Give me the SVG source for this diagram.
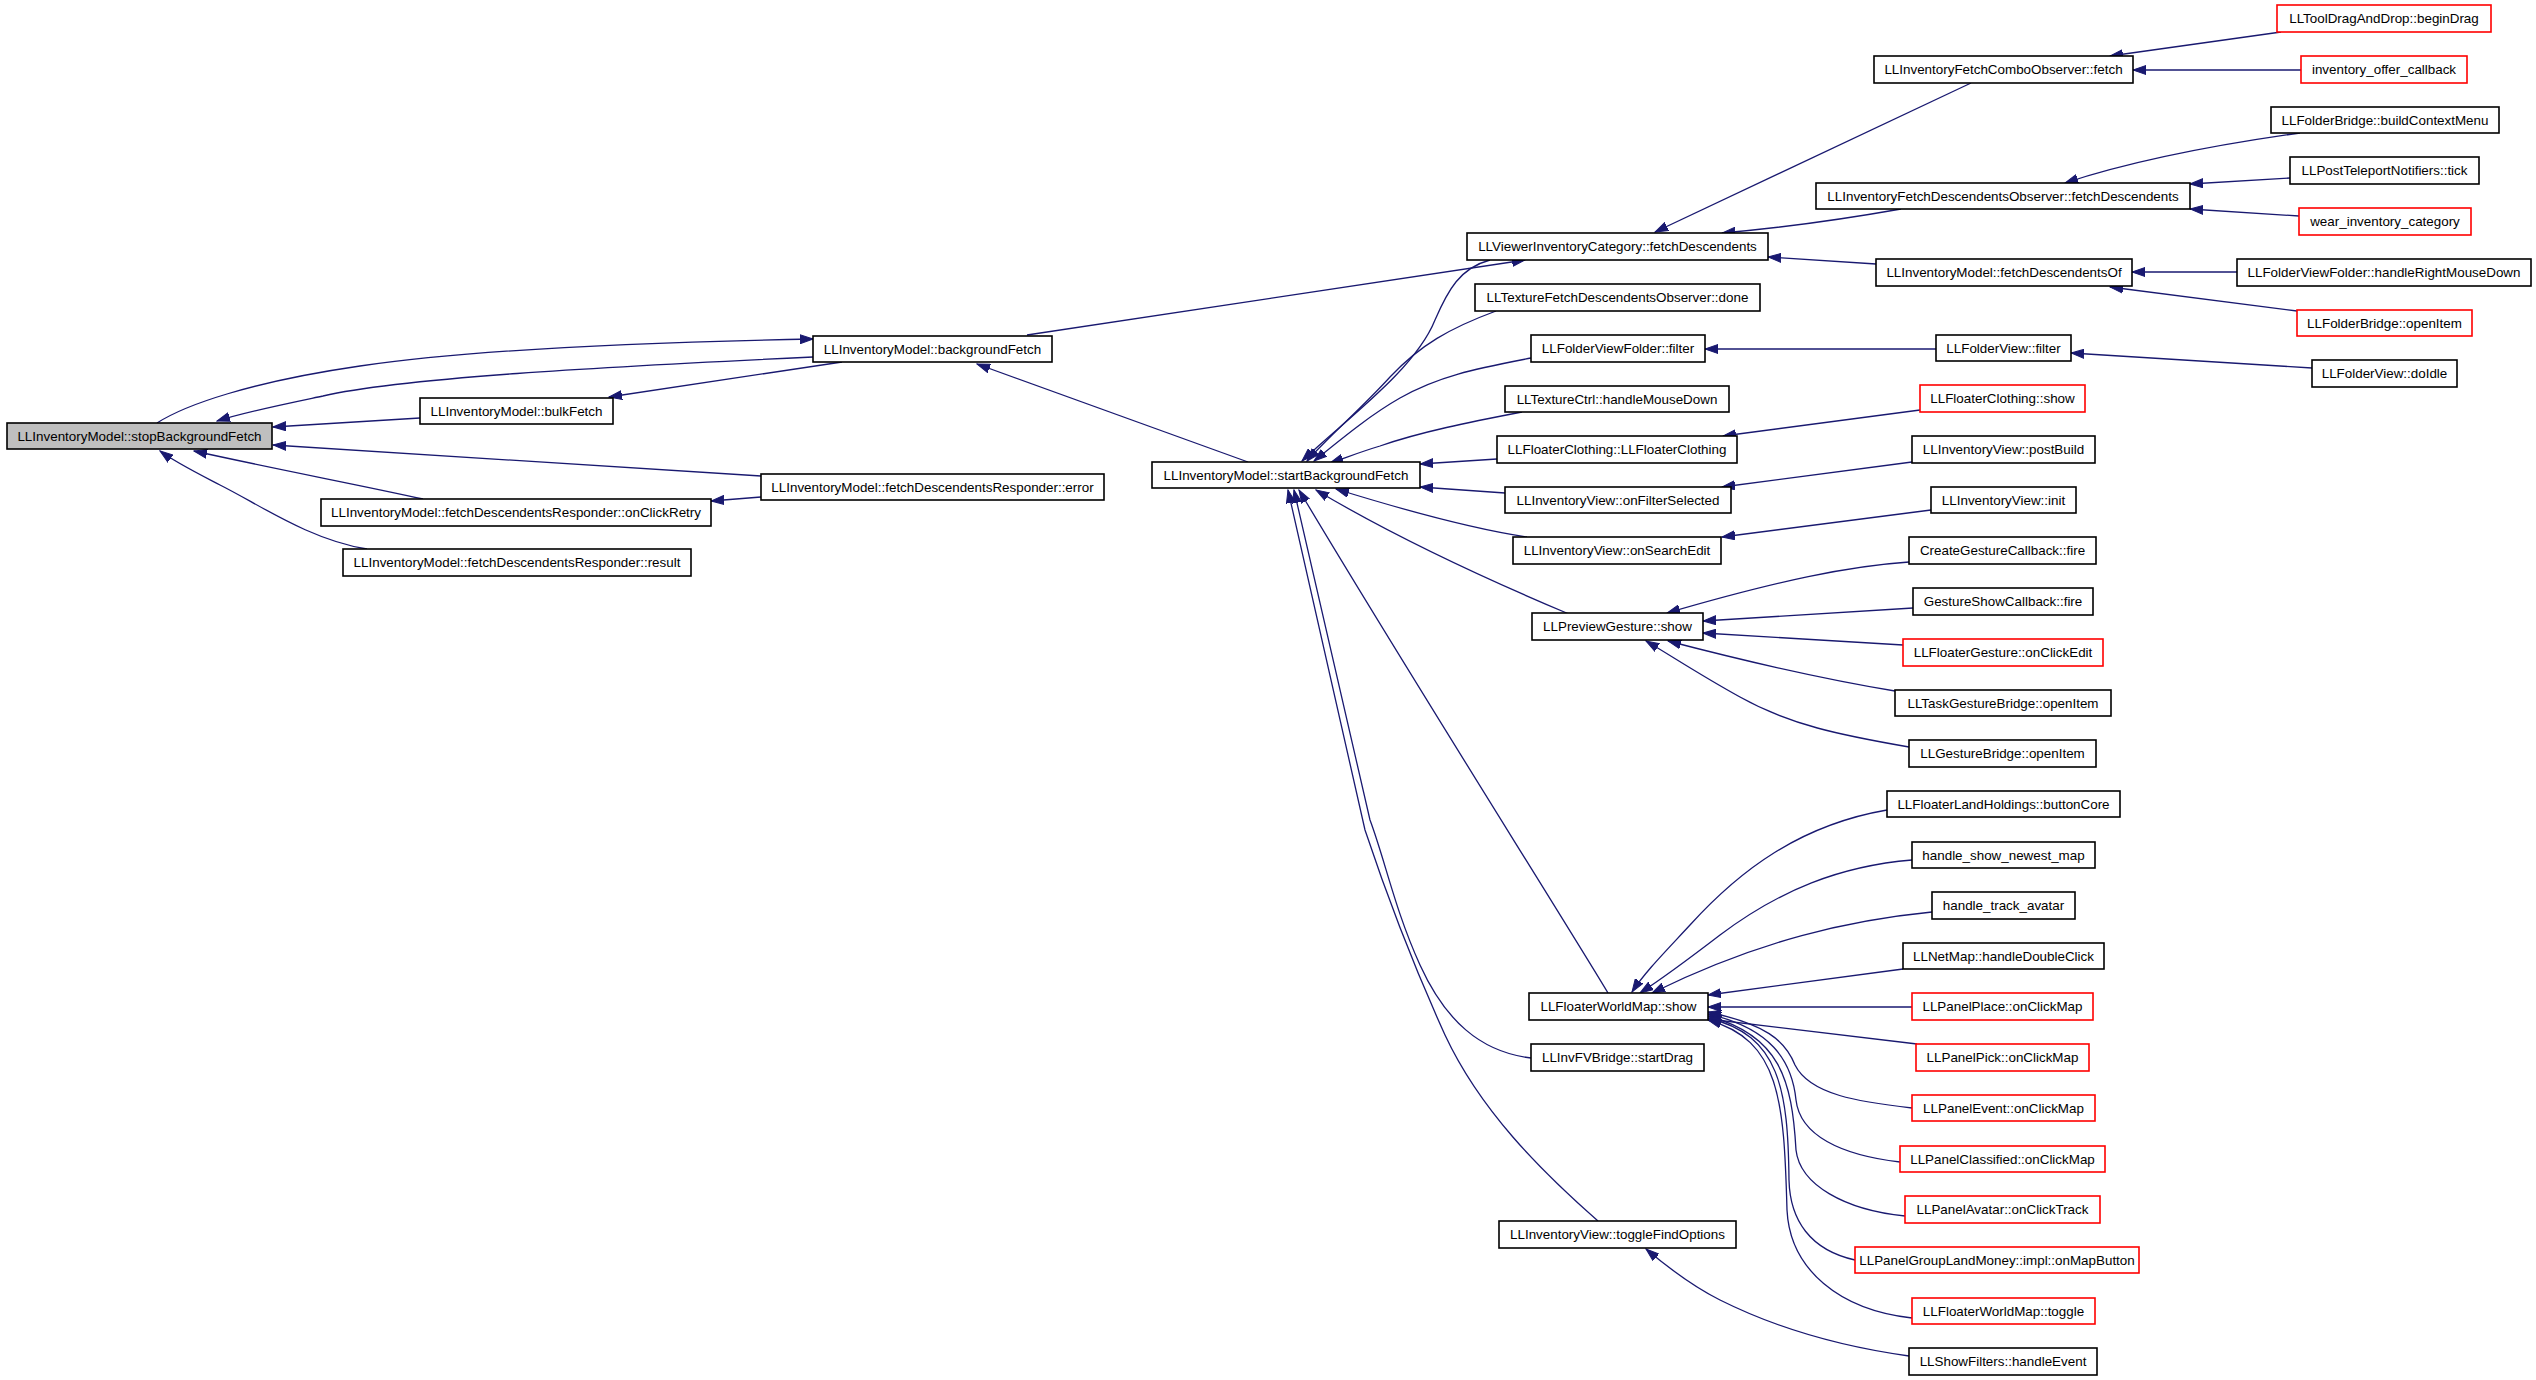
<svg xmlns="http://www.w3.org/2000/svg" width="2536" height="1380" viewBox="0 0 2536 1380">
<defs>
<style>
.n rect{fill:#ffffff;stroke:#000000;stroke-width:1.6}
.n.r rect{stroke:#ff0000}
.n.g rect{fill:#bfbfbf}
.n text{font-family:"Liberation Sans",Arial,sans-serif;font-size:13.4px;fill:#000000;text-anchor:middle}
#edges path{fill:none;stroke:#191970;stroke-width:1.3;marker-end:url(#ah)}
</style>
<marker id="ah" markerUnits="userSpaceOnUse" markerWidth="14" markerHeight="10" refX="13" refY="5" orient="auto" viewBox="0 0 14 10">
<path d="M0,0.5 L13,5 L0,9.5 z" fill="#191970" stroke="#191970" stroke-width="1"/>
</marker>
</defs>
<rect x="0" y="0" width="2536" height="1380" fill="#ffffff"/>
<g id="edges">
<path d="M157,423 C185,405 250,382 360,366 S650,342 813,339"/>
<path d="M813,357 C600,367 400,378 323,396 C280,405 245,412 217,421"/>
<path d="M420,418 L273,427"/>
<path d="M842,362 L609,397"/>
<path d="M761,476 L273,445"/>
<path d="M761,497 L711,501"/>
<path d="M423,499 C360,485 280,470 194,451"/>
<path d="M367,549 C310,540 260,505 220,485 C195,472 175,462 160,451"/>
<path d="M1248,462 L977,364"/>
<path d="M1027,335 L1525,260"/>
<path d="M1490,260 C1460,268 1448,290 1435,320 C1415,370 1345,420 1302,461"/>
<path d="M1496,311 C1450,328 1420,345 1390,377 C1360,410 1330,435 1307,461"/>
<path d="M1531,358 C1480,368 1440,375 1400,398 C1370,415 1340,440 1314,461"/>
<path d="M1522,412 C1470,422 1420,432 1380,446 C1360,452 1345,458 1330,463"/>
<path d="M1497,459 L1420,464"/>
<path d="M1505,493 L1420,487"/>
<path d="M1527,537 C1480,530 1420,515 1336,489"/>
<path d="M1569,614 C1500,585 1400,540 1316,490"/>
<path d="M1608,993 C1560,913 1400,660 1299,490"/>
<path d="M1531,1058 C1480,1052 1445,1020 1420,965 C1395,910 1385,860 1370,820 L1294,490"/>
<path d="M1598,1221 C1540,1170 1480,1110 1445,1035 C1420,980 1395,920 1365,830 L1288,490"/>
<path d="M1971,83 L1655,232"/>
<path d="M1901,209 C1850,218 1780,228 1722,233"/>
<path d="M1876,264 L1768,257"/>
<path d="M1936,349 L1705,349"/>
<path d="M1920,410 L1723,436"/>
<path d="M1912,462 L1722,487"/>
<path d="M1931,510 L1722,537"/>
<path d="M1909,562 C1850,566 1780,580 1667,613"/>
<path d="M1913,608 L1703,621"/>
<path d="M1903,645 L1703,633"/>
<path d="M1895,691 C1840,682 1760,665 1668,641"/>
<path d="M1909,747 C1840,735 1790,725 1740,697 C1700,675 1670,655 1646,641"/>
<path d="M2281,32 L2110,56"/>
<path d="M2301,70 L2133,70"/>
<path d="M2300,133 C2250,140 2150,155 2065,183"/>
<path d="M2290,178 L2190,184"/>
<path d="M2299,216 L2190,209"/>
<path d="M2237,272 L2132,272"/>
<path d="M2297,311 L2110,287"/>
<path d="M2312,368 L2071,353"/>
<path d="M1887,810 C1800,825 1740,870 1690,925 C1665,952 1645,972 1632,992"/>
<path d="M1912,860 C1840,866 1780,890 1720,935 C1690,958 1660,980 1640,993"/>
<path d="M1932,912 C1850,920 1760,940 1652,993"/>
<path d="M1903,969 C1850,976 1780,985 1708,995"/>
<path d="M1912,1007 L1708,1007"/>
<path d="M1917,1044 L1708,1019"/>
<path d="M1912,1108 C1860,1102 1810,1095 1795,1065 C1785,1040 1765,1024 1708,1012"/>
<path d="M1900,1162 C1840,1155 1800,1135 1796,1100 C1792,1060 1770,1028 1708,1014"/>
<path d="M1905,1216 C1845,1210 1800,1185 1796,1150 C1792,1080 1780,1035 1708,1016"/>
<path d="M1855,1260 C1810,1250 1790,1220 1789,1180 C1788,1090 1780,1035 1708,1018"/>
<path d="M1912,1318 C1840,1310 1790,1270 1787,1210 C1784,1100 1780,1040 1708,1020"/>
<path d="M1909,1356 C1830,1345 1770,1325 1720,1300 C1690,1285 1665,1265 1646,1249"/>
</g>
<g id="n0" class="n g"><rect x="7" y="423" width="265" height="26"/><text x="139.5" y="440.7">LLInventoryModel::stopBackgroundFetch</text></g>
<g id="n1" class="n"><rect x="813" y="336" width="239" height="26"/><text x="932.5" y="353.7">LLInventoryModel::backgroundFetch</text></g>
<g id="n2" class="n"><rect x="420" y="398" width="193" height="26"/><text x="516.5" y="415.7">LLInventoryModel::bulkFetch</text></g>
<g id="n3" class="n"><rect x="761" y="474" width="343" height="26"/><text x="932.5" y="491.7">LLInventoryModel::fetchDescendentsResponder::error</text></g>
<g id="n4" class="n"><rect x="321" y="499" width="390" height="27"/><text x="516" y="517.2">LLInventoryModel::fetchDescendentsResponder::onClickRetry</text></g>
<g id="n5" class="n"><rect x="343" y="549" width="348" height="27"/><text x="517" y="567.2">LLInventoryModel::fetchDescendentsResponder::result</text></g>
<g id="n6" class="n"><rect x="1152" y="462" width="268" height="26"/><text x="1286" y="479.7">LLInventoryModel::startBackgroundFetch</text></g>
<g id="n7" class="n"><rect x="1467" y="233" width="301" height="27"/><text x="1617.5" y="251.2">LLViewerInventoryCategory::fetchDescendents</text></g>
<g id="n8" class="n"><rect x="1475" y="284" width="285" height="27"/><text x="1617.5" y="302.2">LLTextureFetchDescendentsObserver::done</text></g>
<g id="n9" class="n"><rect x="1531" y="335" width="174" height="27"/><text x="1618" y="353.2">LLFolderViewFolder::filter</text></g>
<g id="n10" class="n"><rect x="1505" y="386" width="224" height="26"/><text x="1617" y="403.7">LLTextureCtrl::handleMouseDown</text></g>
<g id="n11" class="n"><rect x="1497" y="436" width="240" height="27"/><text x="1617" y="454.2">LLFloaterClothing::LLFloaterClothing</text></g>
<g id="n12" class="n"><rect x="1505" y="487" width="226" height="26"/><text x="1618" y="504.7">LLInventoryView::onFilterSelected</text></g>
<g id="n13" class="n"><rect x="1513" y="537" width="208" height="27"/><text x="1617" y="555.2">LLInventoryView::onSearchEdit</text></g>
<g id="n14" class="n"><rect x="1532" y="613" width="171" height="27"/><text x="1617.5" y="631.2">LLPreviewGesture::show</text></g>
<g id="n15" class="n"><rect x="1529" y="993" width="179" height="27"/><text x="1618.5" y="1011.2">LLFloaterWorldMap::show</text></g>
<g id="n16" class="n"><rect x="1531" y="1044" width="173" height="27"/><text x="1617.5" y="1062.2">LLInvFVBridge::startDrag</text></g>
<g id="n17" class="n"><rect x="1499" y="1221" width="237" height="27"/><text x="1617.5" y="1239.2">LLInventoryView::toggleFindOptions</text></g>
<g id="n18" class="n"><rect x="1874" y="56" width="259" height="27"/><text x="2003.5" y="74.2">LLInventoryFetchComboObserver::fetch</text></g>
<g id="n19" class="n"><rect x="1816" y="183" width="374" height="26"/><text x="2003" y="200.7">LLInventoryFetchDescendentsObserver::fetchDescendents</text></g>
<g id="n20" class="n"><rect x="1876" y="259" width="256" height="27"/><text x="2004" y="277.2">LLInventoryModel::fetchDescendentsOf</text></g>
<g id="n21" class="n"><rect x="1936" y="335" width="135" height="26"/><text x="2003.5" y="352.7">LLFolderView::filter</text></g>
<g id="n22" class="n r"><rect x="1920" y="385" width="165" height="27"/><text x="2002.5" y="403.2">LLFloaterClothing::show</text></g>
<g id="n23" class="n"><rect x="1912" y="436" width="183" height="27"/><text x="2003.5" y="454.2">LLInventoryView::postBuild</text></g>
<g id="n24" class="n"><rect x="1931" y="487" width="145" height="26"/><text x="2003.5" y="504.7">LLInventoryView::init</text></g>
<g id="n25" class="n"><rect x="1909" y="537" width="187" height="27"/><text x="2002.5" y="555.2">CreateGestureCallback::fire</text></g>
<g id="n26" class="n"><rect x="1913" y="588" width="180" height="27"/><text x="2003" y="606.2">GestureShowCallback::fire</text></g>
<g id="n27" class="n r"><rect x="1903" y="639" width="200" height="27"/><text x="2003" y="657.2">LLFloaterGesture::onClickEdit</text></g>
<g id="n28" class="n"><rect x="1895" y="690" width="216" height="26"/><text x="2003" y="707.7">LLTaskGestureBridge::openItem</text></g>
<g id="n29" class="n"><rect x="1909" y="740" width="187" height="27"/><text x="2002.5" y="758.2">LLGestureBridge::openItem</text></g>
<g id="n30" class="n"><rect x="1887" y="791" width="233" height="26"/><text x="2003.5" y="808.7">LLFloaterLandHoldings::buttonCore</text></g>
<g id="n31" class="n"><rect x="1912" y="842" width="183" height="26"/><text x="2003.5" y="859.7">handle_show_newest_map</text></g>
<g id="n32" class="n"><rect x="1932" y="892" width="143" height="27"/><text x="2003.5" y="910.2">handle_track_avatar</text></g>
<g id="n33" class="n"><rect x="1903" y="943" width="201" height="26"/><text x="2003.5" y="960.7">LLNetMap::handleDoubleClick</text></g>
<g id="n34" class="n r"><rect x="1912" y="993" width="181" height="27"/><text x="2002.5" y="1011.2">LLPanelPlace::onClickMap</text></g>
<g id="n35" class="n r"><rect x="1916" y="1044" width="173" height="27"/><text x="2002.5" y="1062.2">LLPanelPick::onClickMap</text></g>
<g id="n36" class="n r"><rect x="1912" y="1095" width="183" height="26"/><text x="2003.5" y="1112.7">LLPanelEvent::onClickMap</text></g>
<g id="n37" class="n r"><rect x="1900" y="1146" width="205" height="26"/><text x="2002.5" y="1163.7">LLPanelClassified::onClickMap</text></g>
<g id="n38" class="n r"><rect x="1905" y="1196" width="195" height="27"/><text x="2002.5" y="1214.2">LLPanelAvatar::onClickTrack</text></g>
<g id="n39" class="n r"><rect x="1855" y="1247" width="284" height="26"/><text x="1997" y="1264.7">LLPanelGroupLandMoney::impl::onMapButton</text></g>
<g id="n40" class="n r"><rect x="1912" y="1298" width="183" height="26"/><text x="2003.5" y="1315.7">LLFloaterWorldMap::toggle</text></g>
<g id="n41" class="n"><rect x="1909" y="1348" width="188" height="27"/><text x="2003" y="1366.2">LLShowFilters::handleEvent</text></g>
<g id="n42" class="n r"><rect x="2277" y="5" width="214" height="27"/><text x="2384" y="23.2">LLToolDragAndDrop::beginDrag</text></g>
<g id="n43" class="n r"><rect x="2301" y="56" width="166" height="27"/><text x="2384" y="74.2">inventory_offer_callback</text></g>
<g id="n44" class="n"><rect x="2271" y="107" width="228" height="26"/><text x="2385" y="124.7">LLFolderBridge::buildContextMenu</text></g>
<g id="n45" class="n"><rect x="2290" y="157" width="189" height="27"/><text x="2384.5" y="175.2">LLPostTeleportNotifiers::tick</text></g>
<g id="n46" class="n r"><rect x="2299" y="208" width="172" height="27"/><text x="2385" y="226.2">wear_inventory_category</text></g>
<g id="n47" class="n"><rect x="2237" y="259" width="294" height="27"/><text x="2384" y="277.2">LLFolderViewFolder::handleRightMouseDown</text></g>
<g id="n48" class="n r"><rect x="2297" y="310" width="175" height="26"/><text x="2384.5" y="327.7">LLFolderBridge::openItem</text></g>
<g id="n49" class="n"><rect x="2312" y="360" width="145" height="27"/><text x="2384.5" y="378.2">LLFolderView::doIdle</text></g>
</svg>
